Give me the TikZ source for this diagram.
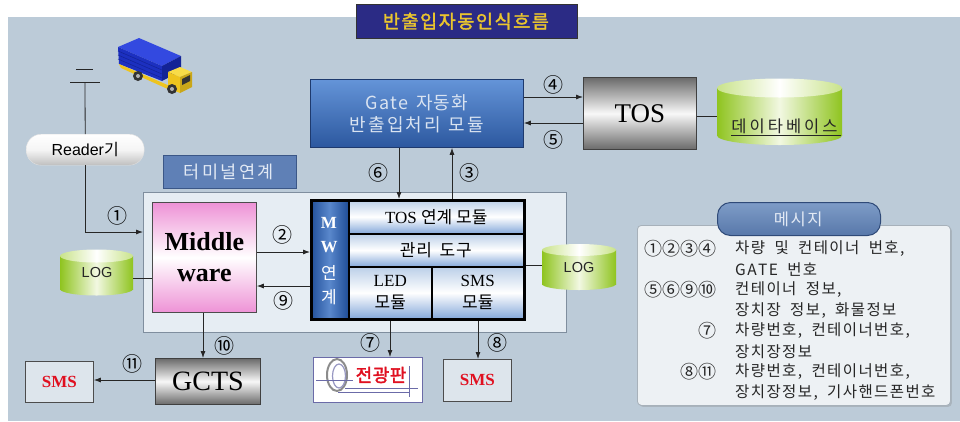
\documentclass[tikz,border=0pt]{standalone}
\usepackage{fontspec}
\setmainfont{Liberation Serif}
\setsansfont{Liberation Sans}
\newfontfamily\kr{Noto Sans CJK KR}
\newfontfamily\krbold{Noto Sans CJK KR}[FakeBold=2]
\usetikzlibrary{arrows.meta,shadows}

\newcommand\fsz[1]{\fontsize{#1}{#1}\selectfont}

% letter-spaced text: gap after every glyph, "~" becomes a word gap
\makeatletter
\newcommand\spcw[3]{\def\spc@gap{#1}\def\spc@word{#2}\spc@loop#3\@nil}
\newcommand\spc[2]{\spcw{#1}{5pt}{#2}}
\def\spc@loop#1{\ifx#1\@nil\else\ifx#1~\hspace{\spc@word}\else#1\hspace{\spc@gap}\fi\expandafter\spc@loop\fi}
\makeatother

% cylinder: centre x, top y, bottom y, x radius, y radius, name
\newcommand\drum[6]{%
  \shade[left color=drumgreen, right color=drumgreen, middle color=drumlight]
    ({#1-#4},#2) rectangle ({#1+#4},#3);
  \shade[left color=drumgreen, right color=drumgreen, middle color=drumlight]
    (#1,#3) ellipse [x radius=#4, y radius=#5];
  \shade[left color=drumtop, right color=drumtop, middle color=white]
    (#1,#2) ellipse [x radius=#4, y radius=#5];
  \node[inner sep=0pt, minimum width={2*#4}, minimum height={#3-#2+2*#5}] (#6) at (#1,{(#2+#3)/2}) {};
}

\definecolor{panelbg}{HTML}{BCCBD8}
\definecolor{titlebg}{HTML}{2B2B85}
\definecolor{titlefg}{HTML}{EAC52E}
\definecolor{gatetop}{HTML}{6494D8}
\definecolor{gatebot}{HTML}{2C589F}
\definecolor{gateline}{HTML}{1E3A6E}
\definecolor{gatetext}{HTML}{D9E3F1}
\definecolor{metaldark}{HTML}{6A6A6A}
\definecolor{metallight}{HTML}{F8F8F8}
\definecolor{drumgreen}{HTML}{8FC41F}
\definecolor{drumlight}{HTML}{F2F8E2}
\definecolor{drumtop}{HTML}{C9E38A}
\definecolor{termfill}{HTML}{E6EDF3}
\definecolor{termline}{HTML}{7F8E9E}
\definecolor{labelfill}{HTML}{5F80B6}
\definecolor{labelline}{HTML}{3B5787}
\definecolor{labeltext}{HTML}{E2E9F4}
\definecolor{mwpink}{HTML}{EE92D6}
\definecolor{colblue}{HTML}{204E98}
\definecolor{colblue2}{HTML}{5A88CC}
\definecolor{celltop}{HTML}{BBCFE8}
\definecolor{cellbot}{HTML}{84A8DA}
\definecolor{smsfill}{HTML}{DDE5EC}
\definecolor{smsred}{HTML}{E01020}
\definecolor{boardline}{HTML}{6B6BA8}
\definecolor{msgfill}{HTML}{EDF1F4}
\definecolor{msgline}{HTML}{A7B1BA}
\definecolor{tabtop}{HTML}{7E9CC7}
\definecolor{tabbot}{HTML}{5878AA}
\definecolor{tabline}{HTML}{2F4A78}
\definecolor{truckblue1}{HTML}{3349E0}
\definecolor{truckblue2}{HTML}{1C30C0}
\definecolor{truckblue3}{HTML}{132396}
\definecolor{truckyel}{HTML}{EEC41E}
\definecolor{truckyel2}{HTML}{F8DC48}

\begin{document}
\begin{tikzpicture}[x=1pt,y=-1pt,
  arr/.style={-{Latex[length=7pt,width=5pt]}, line width=0.8pt, draw=black!85},
  link/.style={line width=0.8pt, draw=black!85},
  num/.style={font=\kr\fsz{20}, inner sep=0pt},
  blk/.style={anchor=north west, inner sep=0pt, align=center},
  metal/.style={top color=metaldark, bottom color=metaldark, middle color=metallight, draw=black!75, line width=0.8pt},
  cell/.style={top color=celltop, bottom color=cellbot, middle color=white, draw=black, line width=1.5pt},
  smsbox/.style={fill=smsfill, draw=black!70, line width=0.8pt, text=smsred, font=\bfseries\fsz{17}},
  msgtxt/.style={anchor=west, inner sep=0pt, font=\kr\fsz{15.5}, text=black!85},
  msgnum/.style={anchor=east, inner sep=0pt, font=\kr\fsz{18}, text=black!85}]

\useasboundingbox (0,0) rectangle (960,421);
\fill[white] (0,0) rectangle (960,421);
\fill[panelbg] (8,17) rectangle (960,421);

% heading
\node[blk, fill=titlebg, draw=black!80, minimum width=221pt, minimum height=34pt,
      text=titlefg, font=\krbold\fsz{18.5}] (title) at (356,4) {\spc{1.6pt}{반출입자동인식흐름}};

% truck
\fill[truckblue1] (118,47) -- (139,38) -- (181,56) -- (162,66) -- cycle;
\fill[truckblue2] (118,47) -- (162,66) -- (162,81) -- (119,64) -- cycle;
\fill[truckblue3] (162,66) -- (181,56) -- (181,71) -- (162,81) -- cycle;
\foreach \k in {1,2,3} \draw[truckblue3, line width=0.5pt] (118,{47+4*\k}) -- (162,{66+4*\k});
\fill[truckyel] (119,64) -- (170,86) -- (170,90) -- (121,68) -- cycle;
\fill[truckyel2] (168,72) -- (180,67) -- (192,72) -- (180,77) -- cycle;
\fill[truckyel] (168,72) -- (180,77) -- (180,93) -- (168,88) -- cycle;
\fill[truckyel!85!black] (180,77) -- (192,72) -- (192,87) -- (180,93) -- cycle;
\fill[black!80] (182,79) -- (190,75) -- (190,81) -- (182,85) -- cycle;
\foreach \wx/\wy in {138/76, 172/89} {
  \fill[black!80] (\wx,\wy) circle [radius=5];
  \fill[black!30] (\wx,\wy) circle [radius=2];
}

% antenna and reader
\coordinate (ant) at (85,82);
\draw[link] (76,69) -- (93,69);
\draw[link] (70,82) -- (100,82);
\node[blk, minimum width=118pt, minimum height=31pt, rounded corners=15pt,
      top color=white, bottom color=black!25, middle color=black!4, draw=black!12]
      (reader) at (26,134) {\sffamily\fsz{16}Reader\kr 기};
\draw[link] (ant) -- (reader.north);

% gate module
\node[blk, minimum width=213pt, minimum height=68pt, top color=gatetop, bottom color=gatebot,
      draw=gateline, line width=0.8pt, text=gatetext, font=\kr\fontsize{18}{22}\selectfont]
      (gate) at (310,79) {\spcw{1.3pt}{6pt}{Gate~자동화}\\\spcw{2pt}{6pt}{반출입처리~모듈}};

% TOS and database
\node[blk, metal, minimum width=113pt, minimum height=72pt, font=\fsz{27}] (tos) at (583,77) {TOS};
\drum{779.5}{88}{135.5}{62.5}{9.5}{db}
\node[inner sep=1pt, font=\kr\fsz{16.5}, text=black!85] (dbtext) at (786,127) {\underline{\spc{3pt}{데이타베이스}}};
\draw[link] (tos.east |- 0,116) -- (db.west |- 0,116);

\draw[arr] (gate.east |- 0,97) -- (tos.west |- 0,97);
\draw[arr] (tos.west |- 0,123) -- (gate.east |- 0,123);
\node[num] (n4) at (553,85) {④};
\node[num] (n5) at (553,140) {⑤};

% terminal link area
\node[blk, fill=labelfill, draw=labelline, line width=1pt, minimum width=133pt, minimum height=33pt,
      text=labeltext, font=\kr\fsz{17.5}] (termlabel) at (163,155) {\spc{2.5pt}{터미널연계}};
\node[blk, fill=termfill, draw=termline, line width=0.8pt, minimum width=423pt, minimum height=140pt] (term) at (143,192) {};

\node[blk, minimum width=104pt, minimum height=110pt, top color=mwpink, bottom color=mwpink, middle color=white,
      draw=black!70, line width=0.8pt, font=\bfseries\fontsize{26}{31}\selectfont] (mid) at (152,202) {Middle\\ware};

% MW module block
\node[blk, minimum width=38pt, minimum height=119pt, left color=colblue, right color=colblue, middle color=colblue2] (mwcol) at (310,199) {};
\node[blk, cell, minimum width=175pt, minimum height=34pt, font=\fsz{17}] (tosmod) at (348,199) {TOS {\kr 연계 모듈}};
\node[blk, cell, minimum width=175pt, minimum height=33pt, font=\kr\fsz{17}] (mgmt) at (348,233) {\spcw{0.8pt}{7pt}{관리~도구}};
\node[blk, cell, minimum width=83pt, minimum height=52pt, font=\fontsize{17}{22}\selectfont] (ledmod) at (348,266) {LED\\{\kr 모듈}};
\node[blk, cell, minimum width=92pt, minimum height=52pt, font=\fontsize{17}{22}\selectfont] (smsmod) at (431,266) {SMS\\{\kr 모듈}};
\node[blk, minimum width=213pt, minimum height=119pt, draw=black, line width=3pt] (mwbox) at (310,199) {};
\node[text=white, inner sep=0pt, font=\bfseries\fsz{17}] (cm) at (329,223) {M};
\node[text=white, inner sep=0pt, font=\bfseries\fsz{17}] (cw) at (329,247.5) {W};
\node[text=white, inner sep=0pt, font=\kr\fsz{17}] (cy) at (329,272.5) {연};
\node[text=white, inner sep=0pt, font=\kr\fsz{17}] (cg) at (329,297) {계};

% log drums
\drum{96.5}{256}{289}{36.5}{6.5}{log1}
\node[inner sep=0pt, font=\sffamily\fsz{14.5}, text=black!85] (log1t) at (97,273) {LOG};
\drum{579}{250}{284}{37}{6}{log2}
\node[inner sep=0pt, font=\sffamily\fsz{14.5}, text=black!85] (log2t) at (579,268) {LOG};
\draw[link] (log1.east |- 0,278) -- (mid.west |- 0,278);
\draw[link] (mwbox.east |- 0,265) -- (log2.west |- 0,265);

% inner flows
\draw[arr] (reader.south) |- (term.west |- 0,232);
\node[num] (n1) at (117,216) {①};
\draw[arr] (mid.east |- 0,252) -- (mwbox.west |- 0,252);
\node[num] (n2) at (282,235) {②};
\draw[arr] (mwbox.west |- 0,286) -- (mid.east |- 0,286);
\node[num] (n9) at (283,301) {⑨};
\draw[arr] (gate.south -| 399,0) -- (mwbox.north -| 399,0);
\node[num] (n6) at (378,173) {⑥};
\draw[arr] (mwbox.north -| 452,0) -- (gate.south -| 452,0);
\node[num] (n3) at (469,173) {③};

% outputs
\node[blk, metal, minimum width=105pt, minimum height=46pt, font=\fsz{28}] (gcts) at (155,358) {GCTS};
\node[blk, smsbox, minimum width=68pt, minimum height=41pt] (sms1) at (25,361) {SMS};
\node[blk, smsbox, minimum width=68pt, minimum height=42pt] (sms2) at (443,359) {SMS};
\node[blk, fill=white, draw=boardline, line width=1pt, minimum width=109pt, minimum height=45pt] (board) at (313,357) {};
\draw[black!45, line width=2pt] (337,375) ellipse [x radius=10, y radius=16];
\draw[boardline!70, line width=1.2pt] (339,376) ellipse [x radius=6.5, y radius=12];
\draw[boardline, line width=0.7pt] (316,380) -- (353,380);
\draw[boardline, line width=0.7pt] (345,388) -- (418,388);
\draw[boardline, line width=0.7pt] (338,392) -- (410,392);
\draw[boardline, line width=0.7pt] (409,366) -- (409,397);
\node[inner sep=0pt, text=smsred, font=\krbold\fsz{18}] (boardtext) at (381,375) {\spc{0.5pt}{전광판}};

\draw[arr] (mid.south -| 203,0) -- (gcts.north -| 203,0);
\node[num] (n10) at (224,346) {⑩};
\draw[arr] (gcts.west |- 0,380) -- (sms1.east |- 0,380);
\node[num] (n11) at (132,364) {⑪};
\draw[arr] (mwbox.south -| 390,0) -- (board.north -| 390,0);
\node[num] (n7) at (370,343) {⑦};
\draw[arr] (mwbox.south -| 478,0) -- (sms2.north -| 478,0);
\node[num] (n8) at (497,343) {⑧};

% message legend
\node[blk, fill=msgfill, draw=msgline, line width=0.8pt, rounded corners=4pt, minimum width=313pt, minimum height=180pt,
      drop shadow={opacity=0.3, shadow xshift=1.5pt, shadow yshift=-1.5pt}] (msgpanel) at (637,225) {};
\node[blk, rounded corners=13pt, top color=tabtop, bottom color=tabbot, draw=tabline, line width=1pt,
      minimum width=163pt, minimum height=33pt, text=labeltext, font=\kr\fsz{16.5}] (msgtab) at (717,202) {\spc{1.5pt}{메시지}};

\node[msgnum] (m1n) at (717,249) {①②③④};
\node[msgtxt] (m1) at (735,249) {\spcw{1.4pt}{8pt}{차량~및~컨테이너~번호,}};
\node[msgtxt] (m2) at (735,269.5) {\spcw{1.4pt}{8pt}{GATE~번호}};
\node[msgnum] (m3n) at (717,290) {⑤⑥⑨⑩};
\node[msgtxt] (m3) at (735,290) {\spcw{1.4pt}{8pt}{컨테이너~정보,}};
\node[msgtxt] (m4) at (735,310.5) {\spcw{1.4pt}{8pt}{장치장~정보,~화물정보}};
\node[msgnum] (m5n) at (717,331) {⑦};
\node[msgtxt] (m5) at (735,331) {\spcw{1.4pt}{8pt}{차량번호,~컨테이너번호,}};
\node[msgtxt] (m6) at (735,351.5) {\spcw{1.4pt}{8pt}{장치장정보}};
\node[msgnum] (m7n) at (717,372) {⑧⑪};
\node[msgtxt] (m7) at (735,372) {\spcw{1.4pt}{8pt}{차량번호,~컨테이너번호,}};
\node[msgtxt] (m8) at (735,392.5) {\spcw{1.4pt}{8pt}{장치장정보,~기사핸드폰번호}};
\end{tikzpicture}
\end{document}
